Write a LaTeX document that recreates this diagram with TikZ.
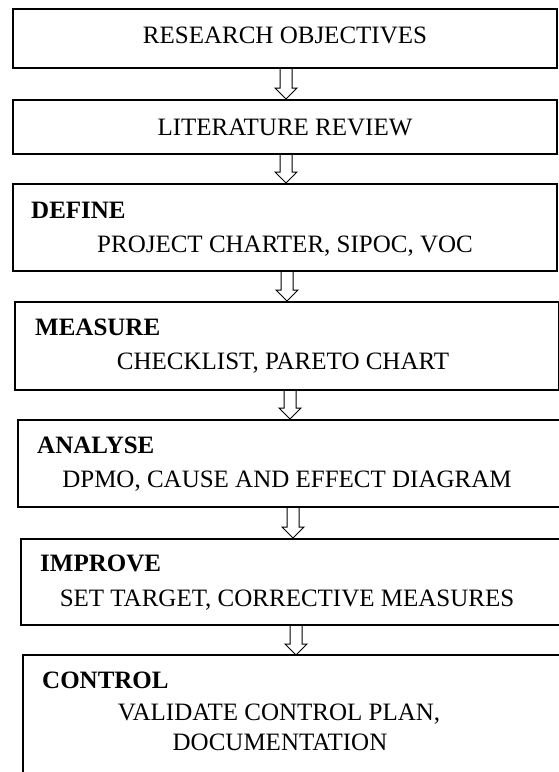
\documentclass[tikz,border=0pt]{standalone}
\usepackage{fontspec}
\setmainfont{Liberation Serif}
\usetikzlibrary{calc}
\tikzset{
  box/.style={draw, line width=1.6pt, anchor=north west, inner sep=0pt},
  lbl/.style={font=\fontsize{25}{30}\selectfont, inner sep=0pt, anchor=base},
  hdr/.style={font=\fontsize{25}{30}\selectfont\bfseries, inner sep=0pt, anchor=base west},
  harrow/.style={draw, line width=1pt, line join=miter}
}
\newcommand\hollowdown[3]{% x-coordinate name, from node, to node
  \path (#1 |- #2.south) coordinate (hs) (#1 |- #3.north) coordinate (he);
  \draw[harrow] ($(hs)+(-6,0)$) -- ($(he)+(-6,-11)$) -- ($(he)+(-11,-11)$) -- (he)
     -- ($(he)+(11,-11)$) -- ($(he)+(6,-11)$) -- ($(hs)+(6,0)$);
}
\begin{document}
\begin{tikzpicture}[x=1pt,y=-1pt]
\useasboundingbox (0,0) rectangle (559,772);
\clip (0,0) rectangle (559,772);
\node[box, minimum width=544pt, minimum height=59pt] (b1) at (12,8) {};
\node[box, minimum width=544pt, minimum height=54pt] (b2) at (12,99) {};
\node[box, minimum width=544pt, minimum height=87pt] (b3) at (12,183) {};
\node[box, minimum width=544pt, minimum height=88pt] (b4) at (14,301) {};
\node[box, minimum width=560pt, minimum height=87pt] (b5) at (17,419) {};
\node[box, minimum width=560pt, minimum height=86pt] (b6) at (20,538) {};
\node[inner sep=0pt, anchor=north west, minimum width=560pt, minimum height=150pt] (b7) at (23,655) {};
\draw[line width=1.6pt] (b7.south west) -- (b7.north west) -- (b7.north east);

\node[lbl] (t1) at (285,43) {RESEARCH OBJECTIVES};
\node[lbl] (t2) at (285,135) {LITERATURE REVIEW};
\node[hdr] (h3) at (31,218) {DEFINE};
\node[lbl] (t3) at (285,252) {PROJECT CHARTER, SIPOC, VOC};
\node[hdr] (h4) at (35,335) {MEASURE};
\node[lbl] (t4) at (283,369) {CHECKLIST, PARETO CHART};
\node[hdr] (h5) at (37,453) {ANALYSE};
\node[lbl] (t5) at (287,487) {DPMO, CAUSE AND EFFECT DIAGRAM};
\node[hdr] (h6) at (40,571) {IMPROVE};
\node[lbl] (t6) at (287,606) {SET TARGET, CORRECTIVE MEASURES};
\node[hdr] (h7) at (42,688) {CONTROL};
\node[lbl] (t7) at (279,720) {VALIDATE CONTROL PLAN,};
\node[lbl] (t8) at (280,750) {DOCUMENTATION};

\coordinate (x1) at (286,0);
\coordinate (x2) at (286,0);
\coordinate (x3) at (287,0);
\coordinate (x4) at (290,0);
\coordinate (x5) at (293,0);
\coordinate (x6) at (296,0);
\hollowdown{x1}{b1}{b2}
\hollowdown{x2}{b2}{b3}
\hollowdown{x3}{b3}{b4}
\hollowdown{x4}{b4}{b5}
\hollowdown{x5}{b5}{b6}
\hollowdown{x6}{b6}{b7}
\end{tikzpicture}
\end{document}
